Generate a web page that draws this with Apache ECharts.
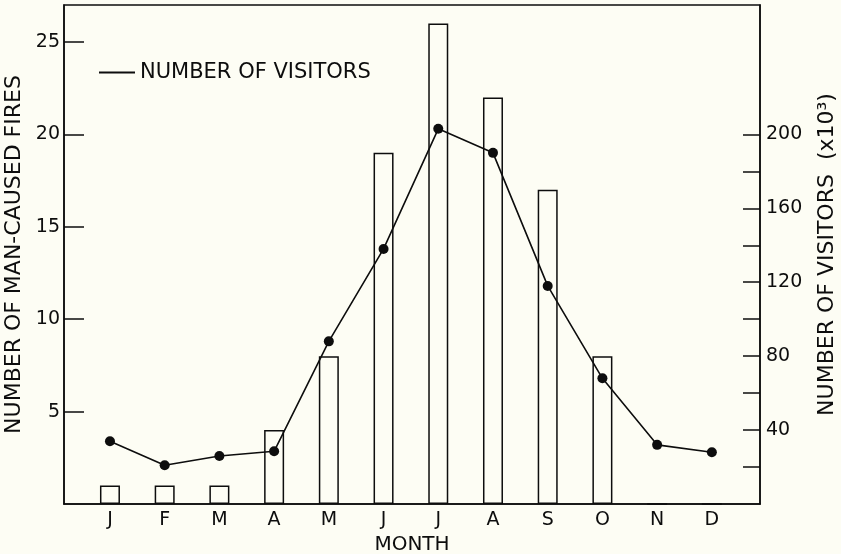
<!DOCTYPE html>
<html>
<head>
<meta charset="utf-8">
<script src="https://cdn.jsdelivr.net/npm/echarts@6/dist/echarts.min.js"></script>
<style>
  html, body { margin: 0; padding: 0; background: #fdfdf4; }
  #fires_visitors { width: 841px; height: 554px; }
</style>
</head>
<body>
<div id="fires_visitors"></div>
<script>
// Monthly man-caused fires (bars) and visitors in thousands (line)
var months = ['J', 'F', 'M', 'A', 'M', 'J', 'J', 'A', 'S', 'O', 'N', 'D'];
var fires = [1, 1, 1, 4, 8, 19, 26, 22, 17, 8, 0, 0];
var visitors = [34, 21, 26, 28.5, 88, 138, 203, 190, 118, 68, 32, 28];
var fireTicks = [5, 10, 15, 20, 25];
var visitorTicks = [20, 40, 60, 80, 100, 120, 140, 160, 180, 200];
var visitorLabels = [40, 80, 120, 160, 200];

var ink = '#0d0d0d';
var font = 'DejaVu Sans';

var chartFires = echarts.init(document.getElementById('fires_visitors'));

option = {
    backgroundColor: '#fdfdf4',
    animation: false,
    textStyle: { fontFamily: font, color: ink },
    grid: {
        left: 64,
        right: 81,
        top: 5,
        bottom: 50,
        outerBoundsMode: 'none',
        containLabel: false,
        show: true,
        borderColor: ink,
        borderWidth: 1.5
    },
    legend: {
        left: 94,
        top: 57,
        itemWidth: 36,
        itemHeight: 2,
        textStyle: { fontFamily: font, fontSize: 21, color: ink },
        data: [{ name: 'NUMBER OF VISITORS', icon: 'rect', itemStyle: { color: ink } }]
    },
    xAxis: {
        type: 'value',
        min: -0.84,
        max: 11.88,
        name: 'MONTH',
        nameLocation: 'middle',
        nameGap: 26,
        nameTextStyle: { fontFamily: font, fontSize: 20, color: ink },
        axisLine: { show: true, onZero: false, lineStyle: { color: ink, width: 1.5 } },
        axisTick: { show: false },
        splitLine: { show: false },
        axisLabel: {
            customValues: months.map(function (m, i) { return i; }),
            formatter: function (v) { return months[v]; },
            fontFamily: font,
            fontSize: 19,
            color: ink,
            margin: 7
        }
    },
    yAxis: [
        {
            type: 'value',
            position: 'left',
            min: 0,
            max: 27,
            name: 'NUMBER OF MAN-CAUSED FIRES',
            nameLocation: 'middle',
            nameRotate: 90,
            nameGap: 38,
            nameTextStyle: { fontFamily: font, fontSize: 22, color: ink },
            axisLine: { show: true, onZero: false, lineStyle: { color: ink, width: 1.5 } },
            axisTick: { show: true, inside: true, length: 20, customValues: fireTicks, lineStyle: { color: ink, width: 1.5 } },
            axisLabel: { customValues: fireTicks, fontFamily: font, fontSize: 19, color: ink, margin: 4 },
            splitLine: { show: false }
        },
        {
            type: 'value',
            position: 'right',
            min: 0,
            max: 270,
            name: 'NUMBER OF VISITORS  (x10³)',
            nameLocation: 'middle',
            nameRotate: 90,
            nameGap: 56,
            nameTextStyle: { fontFamily: font, fontSize: 22, color: ink },
            axisLine: { show: true, onZero: false, lineStyle: { color: ink, width: 1.5 } },
            axisTick: { show: true, inside: true, length: 17, customValues: visitorTicks, lineStyle: { color: ink, width: 1.5 } },
            axisLabel: { customValues: visitorLabels, fontFamily: font, fontSize: 19, color: ink, margin: 6 },
            splitLine: { show: false }
        }
    ],
    series: [
        {
            name: 'NUMBER OF MAN-CAUSED FIRES',
            type: 'bar',
            yAxisIndex: 0,
            barWidth: 20,
            itemStyle: { color: 'rgba(0,0,0,0)', borderColor: ink, borderWidth: 1.5 },
            data: fires.map(function (v, i) { return [i, v]; })
        },
        {
            name: 'NUMBER OF VISITORS',
            type: 'line',
            yAxisIndex: 1,
            symbol: 'circle',
            symbolSize: 10,
            itemStyle: { color: ink },
            lineStyle: { color: ink, width: 1.6 },
            data: visitors.map(function (v, i) { return [i, v]; })
        }
    ]
};

chartFires.setOption(option);
</script>
</body>
</html>
